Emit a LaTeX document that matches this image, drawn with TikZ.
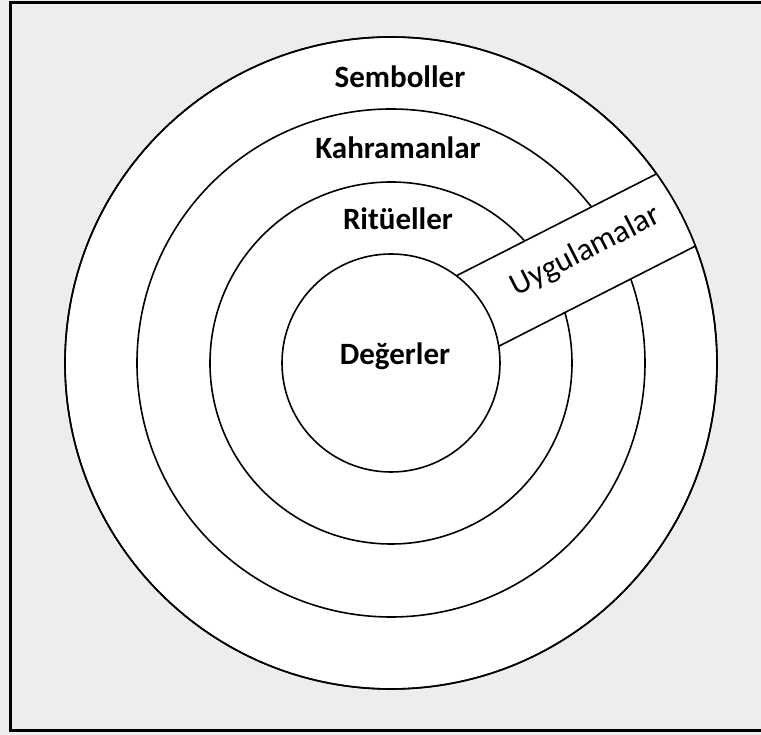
\documentclass[tikz,border=0pt]{standalone}
\usepackage{fontspec}
\setmainfont{Carlito}
\usetikzlibrary{positioning}

\begin{document}
\begin{tikzpicture}[x=1pt, y=1pt,
  ring/.style={draw, line width=1.6pt},
  layer/.style={font=\fontsize{31}{36}\selectfont\bfseries},
  bandtext/.style={font=\fontsize{32}{37}\selectfont, rotate=27}]
\useasboundingbox[fill={rgb,255:red,237;green,237;blue,237}] (-391,-372) rectangle (370,363);
\draw[line width=3pt] (374,360) -- (-380,360) -- (-380,-368) -- (374,-368);
\coordinate (c) at (0,0);
% rings
\draw[ring, fill=white] (c) circle (326);
\draw[ring] (c) circle (254);
\draw[ring] (c) circle (181);
% band
\begin{scope}[rotate=27]
\begin{scope}
\clip (c) circle (326);
\fill[white] (0,-34) rectangle (340,48);
\end{scope}
\coordinate (bandUL) at (97.9,48);
\coordinate (bandUR) at (322.4,48);
\coordinate (bandLL) at (103.6,-34);
\coordinate (bandLR) at (324.2,-34);
\node[bandtext] (Uygulamalar) at (224,11) {Uygulamalar};
\end{scope}
\draw[ring] (bandUL) -- (bandUR);
\draw[ring] (bandLL) -- (bandLR);
\draw[ring] (c) circle (326);
\draw[ring, fill=white] (c) circle (109);
% labels
\node[layer] (Semboller) at (9,286) {Semboller};
\node[layer] (Kahramanlar) at (7,215) {Kahramanlar};
\node[layer] (Ritueller) at (7,144) {Ritüeller};
\node[layer] (Degerler) at (4,7) {Değerler};
\end{tikzpicture}
\end{document}
